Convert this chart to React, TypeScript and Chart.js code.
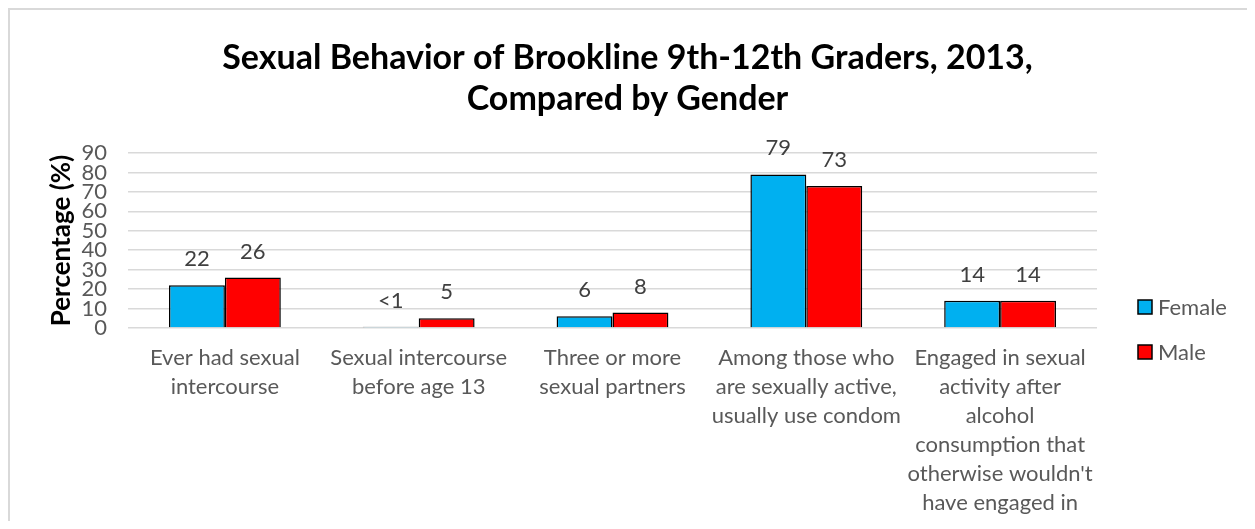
import React, { useEffect, useRef } from "react";
import { Chart, registerables } from "chart.js";

Chart.register(...registerables);

// ---- Data ----
const titleLines = [
  "Sexual Behavior of Brookline 9th-12th Graders, 2013,",
  "Compared by Gender",
];
const categories: string[][] = [
  ["Ever had sexual", "intercourse"],
  ["Sexual intercourse", "before age 13"],
  ["Three or more", "sexual partners"],
  ["Among those who", "are sexually active,", "usually use condom"],
  [
    "Engaged in sexual",
    "activity after",
    "alcohol",
    "consumption that",
    "otherwise wouldn't",
    "have engaged in",
  ],
];
const seriesNames = ["Female", "Male"];
const femaleValues = [22, 0.7, 6, 79, 14];
const maleValues = [26, 5, 8, 73, 14];
const femaleLabels = ["22", "<1", "6", "79", "14"];
const maleLabels = ["26", "5", "8", "73", "14"];
const seriesColors = ["#00B0F0", "#FF0000"];
const yTitle = "Percentage (%)";
const yMin = 0;
const yMax = 90;
const yStep = 10;

const FONT = "Lato, 'Open Sans', sans-serif";

const dataLabelPlugin = {
  id: "dataLabelPlugin",
  afterDatasetsDraw(chart: any) {
    const ctx = chart.ctx;
    ctx.save();
    ctx.font = `22px ${FONT}`;
    ctx.fillStyle = "#404040";
    ctx.textAlign = "center";
    ctx.textBaseline = "middle";
    chart.data.datasets.forEach((ds: any, i: number) => {
      const meta = chart.getDatasetMeta(i);
      meta.data.forEach((el: any, j: number) => {
        ctx.fillText(ds.valueLabels[j], el.x, el.y - 26);
      });
    });
    ctx.restore();
  },
};

const legendPlugin = {
  id: "sideLegend",
  afterDraw(chart: any) {
    const ctx = chart.ctx;
    const area = chart.chartArea;
    const x0 = area.right + 41;
    const cy = area.bottom + 1.5;
    const gap = 45;
    ctx.save();
    ctx.font = `22px ${FONT}`;
    ctx.textBaseline = "middle";
    ctx.textAlign = "left";
    chart.data.datasets.forEach((ds: any, i: number) => {
      const y = cy + (i - 0.5) * gap;
      ctx.fillStyle = ds.backgroundColor;
      ctx.fillRect(x0, y - 7, 14, 14);
      ctx.strokeStyle = "#000";
      ctx.lineWidth = 1.5;
      ctx.strokeRect(x0, y - 7, 14, 14);
      ctx.fillStyle = "#595959";
      ctx.fillText(ds.label, x0 + 20, y + 1);
    });
    ctx.restore();
  },
};

export default function App() {
  const ref = useRef<HTMLCanvasElement | null>(null);

  useEffect(() => {
    if (!ref.current) return;
    const chart = new Chart(ref.current, {
      type: "bar",
      data: {
        labels: categories,
        datasets: [
          {
            label: seriesNames[0],
            data: femaleValues,
            valueLabels: femaleLabels,
            backgroundColor: seriesColors[0],
            borderColor: "#000000",
            borderWidth: 1.5,
          } as any,
          {
            label: seriesNames[1],
            data: maleValues,
            valueLabels: maleLabels,
            backgroundColor: seriesColors[1],
            borderColor: "#000000",
            borderWidth: 1.5,
          } as any,
        ],
      },
      options: {
        animation: false,
        responsive: false,
        devicePixelRatio: 1,
        layout: { padding: 0 },
        datasets: {
          bar: { categoryPercentage: 0.577, barPercentage: 1 },
        },
        plugins: {
          legend: { display: false },
          tooltip: { enabled: false },
          title: {
            display: true,
            text: titleLines,
            color: "#000000",
            font: { family: FONT, size: 34, weight: "bold", lineHeight: "41px" } as any,
            padding: { top: 29.5, bottom: 33.5 },
          },
        },
        scales: {
          x: {
            grid: { display: false, drawTicks: false },
            border: { display: false },
            ticks: {
              color: "#595959",
              font: { family: FONT, size: 22, lineHeight: 29 / 22 },
              padding: 15,
              maxRotation: 0,
              minRotation: 0,
              autoSkip: false,
            },
            afterFit(scale: any) {
              scale.height = 193;
            },
          },
          y: {
            min: yMin,
            max: yMax,
            grid: { color: "#d9d9d9", lineWidth: 1.5, drawTicks: false },
            border: { display: false },
            ticks: {
              stepSize: yStep,
              autoSkip: false,
              color: "#595959",
              font: { family: FONT, size: 22, lineHeight: 1 },
              padding: 21,
            },
            title: {
              display: true,
              text: yTitle,
              color: "#000000",
              font: { family: FONT, size: 26, weight: "bold" },
              padding: { top: 38.4, bottom: 0 },
            },
            afterFit(scale: any) {
              scale.width = 120;
            },
          },
          legendSpace: {
            type: "linear",
            position: "right",
            display: true,
            grid: { display: false, drawTicks: false },
            border: { display: false },
            ticks: { display: false },
            afterFit(scale: any) {
              scale.width = 150;
            },
          } as any,
        },
      },
      plugins: [dataLabelPlugin, legendPlugin],
    });
    return () => chart.destroy();
  }, []);

  return (
    <div style={{ position: "relative", width: 1239, height: 513 }}>
      <canvas ref={ref} width={1239} height={513} style={{ display: "block", width: 1239, height: 513 }} />
      <div
        style={{
          position: "absolute",
          left: 0,
          top: 0,
          width: 1239,
          height: 513,
          boxSizing: "border-box",
          borderTop: "2px solid #d9d9d9",
          borderLeft: "2px solid #d9d9d9",
          pointerEvents: "none",
        }}
      />
    </div>
  );
}
